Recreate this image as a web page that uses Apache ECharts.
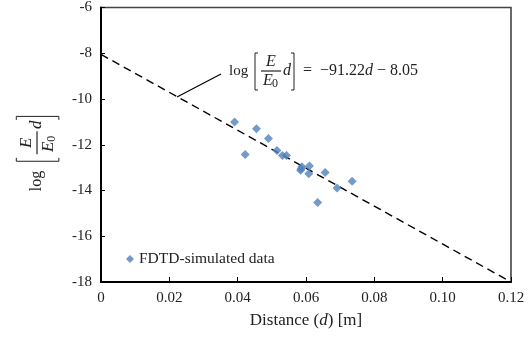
<!DOCTYPE html>
<html><head><meta charset="utf-8">
<script src="https://cdn.jsdelivr.net/npm/echarts@6/dist/echarts.min.js"></script>
<style>html,body{margin:0;padding:0;background:#fff}#c{width:532px;height:341px}</style>
</head><body><div id="c"></div>
<script>
var distance = [0.0391, 0.0455, 0.0490, 0.0422, 0.0515, 0.0531, 0.0543, 0.0588, 0.0584, 0.0610, 0.0608, 0.0656, 0.0691, 0.0735, 0.0634, 0.0586];
var logValue = [-11.00, -11.30, -11.73, -12.43, -12.25, -12.47, -12.47, -12.96, -13.12, -12.93, -13.27, -13.21, -13.89, -13.60, -14.52, -13.05];
var fitX = [0, 0.12];
var fitY = [-8.05, -18];
var xTicks = {min: 0, max: 0.12, step: 0.02};
var yTicks = {min: -18, max: -6, step: 2};
var seriesName = 'FDTD-simulated data';
var rhsParts = ['=  −91.22', 'd', ' − 8.05'];

var SERIF = '"Liberation Serif", "Times New Roman", serif';

function formula(fs, s, withRhs) {
  var col = '#222';
  var ch = [
    {type: 'text', x: -1*s, y: 0, style: {text: 'log', font: Math.round(fs*0.94) + 'px ' + SERIF, fill: col, verticalAlign: 'middle'}},
    {type: 'polyline', shape: {points: [[28*s, -18*s], [25*s, -18*s], [25*s, 19*s], [28*s, 19*s]]}, style: {stroke: col, lineWidth: 1, fill: null}},
    {type: 'text', x: 41*s, y: -9*s, style: {text: 'E', font: 'italic ' + fs + 'px ' + SERIF, fill: col, align: 'center', verticalAlign: 'middle'}},
    {type: 'line', shape: {x1: 31*s, y1: 0, x2: 51*s, y2: 0}, style: {stroke: col, lineWidth: 1.2}},
    {type: 'text', x: 33*s, y: 10*s, style: {text: 'E', font: 'italic ' + fs + 'px ' + SERIF, fill: col, verticalAlign: 'middle'}},
    {type: 'text', x: 42*s, y: 13*s, style: {text: '0', font: Math.round(fs*0.72) + 'px ' + SERIF, fill: col, verticalAlign: 'middle'}},
    {type: 'text', x: 53*s, y: 0, style: {text: 'd', font: 'italic ' + fs + 'px ' + SERIF, fill: col, verticalAlign: 'middle'}},
    {type: 'polyline', shape: {points: [[61*s, -18*s], [64*s, -18*s], [64*s, 19*s], [61*s, 19*s]]}, style: {stroke: col, lineWidth: 1, fill: null}}
  ];
  if (withRhs) {
    ch.push({type: 'text', x: 73*s, y: 0, style: {
      text: '{n|' + rhsParts[0] + '}{i|' + rhsParts[1] + '}{n|' + rhsParts[2] + '}',
      verticalAlign: 'middle',
      rich: {
        n: {fontFamily: SERIF, fontSize: fs, fill: col, color: col},
        i: {fontFamily: SERIF, fontSize: fs, fontStyle: 'italic', fill: col, color: col}
      }
    }});
  }
  return ch;
}

var chart = echarts.init(document.getElementById('c'), null, {renderer: 'canvas'});
var pts = distance.map(function (d, i) { return [d, logValue[i]]; });
var fit = fitX.map(function (d, i) { return [d, fitY[i]]; });

chart.setOption({
  animation: false,
  backgroundColor: '#fff',
  grid: {left: 101, right: 21, top: 7, bottom: 59, show: true, borderColor: '#444', borderWidth: 1.6, containLabel: false},
  xAxis: {
    type: 'value', min: xTicks.min, max: xTicks.max, interval: xTicks.step,
    axisLine: {show: true, onZero: false, lineStyle: {color: '#000', width: 2}},
    axisTick: {show: true, inside: true, length: 5, lineStyle: {color: '#000', width: 1}},
    splitLine: {show: false},
    axisLabel: {color: '#222', fontFamily: SERIF, fontSize: 15, margin: 9,
      formatter: function (v) { return v === 0 ? '0' : v.toFixed(2); }},
    name: '{n|Distance (}{i|d}{n|) [m]}', nameLocation: 'middle', nameGap: 30,
    nameTextStyle: {rich: {
      n: {fontFamily: SERIF, fontSize: 17, color: '#222'},
      i: {fontFamily: SERIF, fontSize: 17, fontStyle: 'italic', color: '#222'}
    }}
  },
  yAxis: {
    type: 'value', min: yTicks.min, max: yTicks.max, interval: yTicks.step,
    axisLine: {show: true, onZero: false, lineStyle: {color: '#000', width: 2}},
    axisTick: {show: true, inside: true, length: 4, lineStyle: {color: '#000', width: 1}},
    splitLine: {show: false},
    axisLabel: {color: '#222', fontFamily: SERIF, fontSize: 15, margin: 9,
      formatter: function (v) { return String(v); }}
  },
  legend: {
    left: 121, top: 246, orient: 'vertical',
    itemWidth: 8, itemHeight: 8, itemGap: 5,
    textStyle: {fontFamily: SERIF, fontSize: 15.5, color: '#222'},
    data: [{name: seriesName, icon: 'diamond'}]
  },
  series: [
    {type: 'line', name: 'fit', data: fit, showSymbol: false, symbol: 'none', silent: true,
      lineStyle: {color: '#000', width: 1.4, type: [8, 5]}, z: 2},
    {type: 'scatter', name: seriesName, data: pts, symbol: 'diamond', symbolSize: 9,
      itemStyle: {color: '#4F81BD'}, z: 3}
  ],
  graphic: [
    {type: 'line', shape: {x1: 221, y1: 74, x2: 177, y2: 97}, style: {stroke: '#000', lineWidth: 1.2}},
    {type: 'group', x: 230, y: 71, children: formula(16, 1, true)},
    {type: 'group', x: 37, y: 190, rotation: Math.PI / 2, children: formula(17, 1.15, false)}
  ]
});
</script></body></html>
